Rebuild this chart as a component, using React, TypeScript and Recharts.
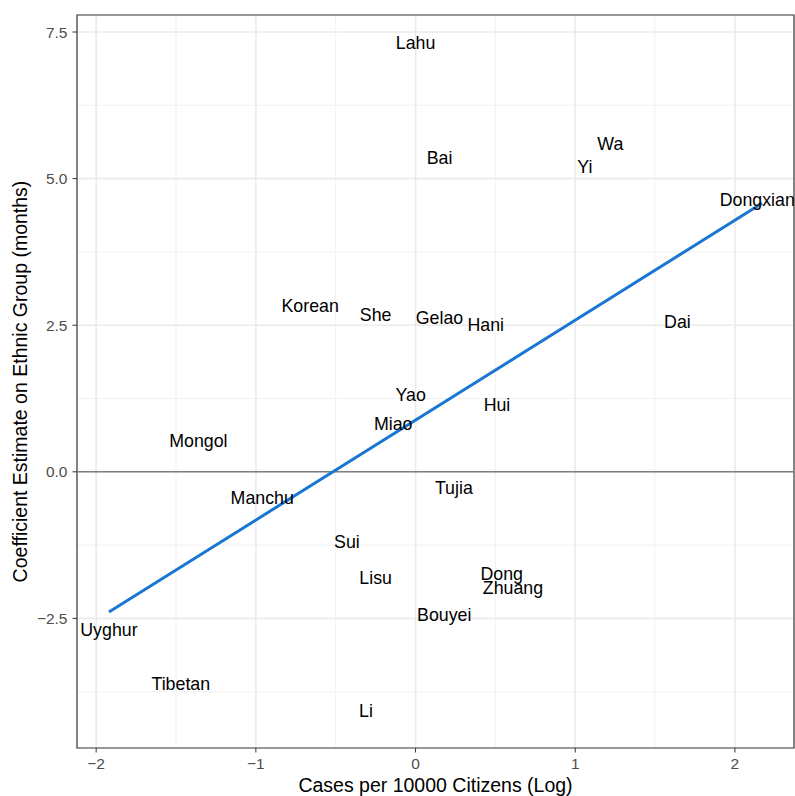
import {
  ScatterChart, Scatter, XAxis, YAxis, CartesianGrid, ReferenceLine, ReferenceArea,
} from 'recharts';

// ethnic group labels, log cases per 10000 citizens, coefficient estimate (months)
const groups = [
  'Lahu', 'Bai', 'Wa', 'Yi', 'Dongxian', 'Korean', 'She', 'Gelao', 'Hani', 'Dai',
  'Yao', 'Hui', 'Miao', 'Mongol', 'Manchu', 'Tujia', 'Sui', 'Lisu', 'Dong', 'Zhuang',
  'Bouyei', 'Uyghur', 'Tibetan', 'Li',
];
const logCases = [
  0.0, 0.15, 1.22, 1.06, 2.14, -0.66, -0.25, 0.15, 0.44, 1.64,
  -0.03, 0.51, -0.14, -1.36, -0.96, 0.24, -0.43, -0.25, 0.54, 0.61,
  0.18, -1.92, -1.47, -0.31,
];
const coefMonths = [
  7.32, 5.36, 5.6, 5.21, 4.64, 2.83, 2.68, 2.63, 2.51, 2.56,
  1.31, 1.14, 0.82, 0.54, -0.44, -0.27, -1.18, -1.8, -1.74, -1.97,
  -2.43, -2.69, -3.61, -4.07,
];

// fitted linear trend endpoints
const fitX = [-1.92, 2.17];
const fitY = [-2.39, 4.58];

const xTicks = [-2, -1, 0, 1, 2];
const xMinor = [-1.5, -0.5, 0.5, 1.5];
const yTicks = [-2.5, 0, 2.5, 5, 7.5];
const yMinor = [-3.75, -1.25, 1.25, 3.75, 6.25];

const X_DOMAIN: [number, number] = [-2.12, 2.37];
const Y_DOMAIN: [number, number] = [-4.71, 7.79];

const points = groups.map((name, i) => ({ name, x: logCases[i], y: coefMonths[i] }));
const fitLine = fitX.map((x, i) => ({ x, y: fitY[i] }));

const FONT = '"Liberation Sans", Arial, sans-serif';
const minus = (s: string) => s.replace('-', '\u2212');

const LabelShape = (props: any) => {
  const { cx, cy, payload } = props;
  return (
    <text
      x={cx}
      y={cy}
      dy={0.5}
      textAnchor="middle"
      dominantBaseline="central"
      fontSize={17.8}
      fontFamily={FONT}
      fill="#000"
    >
      {payload.name}
    </text>
  );
};

const App = () => {
  return (
    <div style={{ position: 'absolute', left: 0, top: 0, width: 795, height: 796, background: '#fff' }}>
      <ScatterChart
        width={795}
        height={796}
        margin={{ top: 15, right: 1, bottom: 0, left: 0 }}
        style={{ fontFamily: FONT }}
      >
        <CartesianGrid
          horizontalValues={yMinor}
          verticalValues={xMinor}
          stroke="#EDEDED"
          strokeWidth={0.8}
        />
        <CartesianGrid
          horizontalValues={yTicks}
          verticalValues={xTicks}
          stroke="#EBEBEB"
          strokeWidth={1.6}
        />
        <XAxis
          type="number"
          dataKey="x"
          domain={X_DOMAIN}
          ticks={xTicks}
          allowDataOverflow
          height={48}
          axisLine={false}
          tickSize={4.5}
          tickMargin={5}
          tickLine={{ stroke: '#333', strokeWidth: 1 }}
          tick={{ fontSize: 15.5, fill: '#4D4D4D', fontFamily: FONT }}
          tickFormatter={(v) => minus(String(v))}
          label={{
            value: 'Cases per 10000 Citizens (Log)',
            position: 'insideBottom',
            offset: 4,
            fontSize: 19.5,
            fill: '#000',
            fontFamily: FONT,
          }}
        />
        <YAxis
          type="number"
          dataKey="y"
          domain={Y_DOMAIN}
          ticks={yTicks}
          allowDataOverflow
          width={77}
          axisLine={false}
          tickSize={4.5}
          tickMargin={5}
          tickLine={{ stroke: '#333', strokeWidth: 1 }}
          tick={{ fontSize: 15.5, fill: '#4D4D4D', fontFamily: FONT }}
          tickFormatter={(v) => minus(v.toFixed(1))}
          label={{
            content: (p: any) => {
              const vb = p.viewBox || { x: 0, y: 15, width: 77, height: 733 };
              const cx = 26.5;
              const cy = vb.y + vb.height / 2;
              return (
                <text
                  x={cx}
                  y={cy}
                  transform={`rotate(-90, ${cx}, ${cy})`}
                  textAnchor="middle"
                  fontSize={19.5}
                  fill="#000"
                  fontFamily={FONT}
                >
                  Coefficient Estimate on Ethnic Group (months)
                </text>
              );
            },
          }}
        />
        <ReferenceLine y={0} stroke="#7F7F7F" strokeWidth={1.5} />
        <Scatter
          data={fitLine}
          line={{ stroke: '#1976D2', strokeWidth: 3 }}
          lineType="joint"
          shape={() => null}
          isAnimationActive={false}
        />
        <Scatter data={points} shape={LabelShape} isAnimationActive={false} />
        <ReferenceArea
          x1={X_DOMAIN[0]}
          x2={X_DOMAIN[1]}
          y1={Y_DOMAIN[0]}
          y2={Y_DOMAIN[1]}
          fill="none"
          fillOpacity={0}
          stroke="#333"
          strokeWidth={1.2}
          ifOverflow="visible"
        />
      </ScatterChart>
    </div>
  );
};

export default App;
